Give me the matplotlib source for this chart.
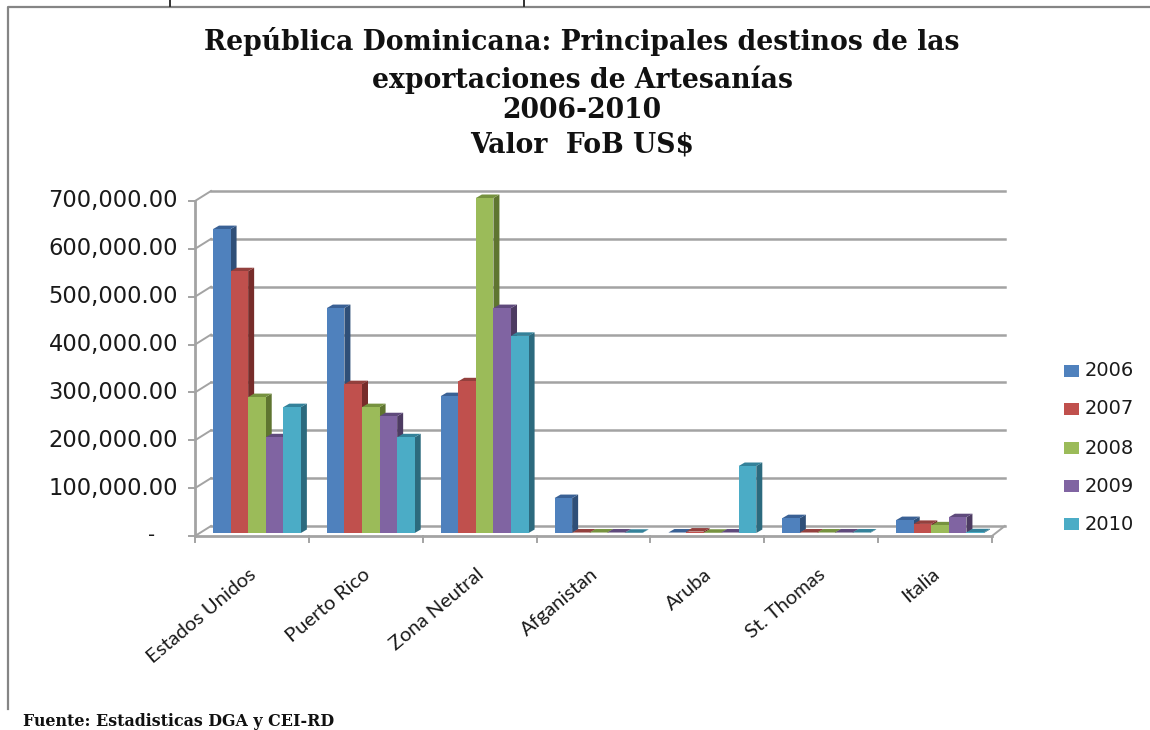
import matplotlib
matplotlib.use('Agg')
import matplotlib.pyplot as plt
from matplotlib.patches import Polygon, Rectangle
import numpy as np

categories = ['Estados Unidos', 'Puerto Rico', 'Zona Neutral', 'Afganistan', 'Aruba', 'St. Thomas', 'Italia']
years = ['2006', '2007', '2008', '2009', '2010']
v2006 = [635000, 470000, 286000, 73000, 1000, 31000, 27000]
v2007 = [547000, 311000, 317000, 1000, 3000, 1000, 19000]
v2008 = [284000, 263000, 700000, 1000, 500, 1000, 16000]
v2009 = [200000, 244000, 470000, 1000, 1000, 1000, 33000]
v2010 = [263000, 200000, 412000, 500, 140000, 1000, 1500]
series = [v2006, v2007, v2008, v2009, v2010]
yticks = [0, 100000, 200000, 300000, 400000, 500000, 600000, 700000]
ylabels = ['-', '100,000.00', '200,000.00', '300,000.00', '400,000.00', '500,000.00', '600,000.00', '700,000.00']

front = ['#4F81BD', '#C0504D', '#9BBB59', '#8064A2', '#4BACC6']
side = ['#2F4F78', '#772C2A', '#5F7530', '#4D3B62', '#2C6A7E']
top = ['#3A6195', '#93403D', '#76923F', '#5F4A7C', '#34829A']
grid = '#A3A3A3'
ink = '#1A1A1A'

W, H = 1150, 730
fig = plt.figure(figsize=(W / 100, H / 100), dpi=100)

# page frame behind the chart
bg = fig.add_axes([0, 0, 1, 1])
bg.set_xlim(0, W)
bg.set_ylim(H, 0)
bg.axis('off')
bg.plot([8, 8, W], [709, 7, 7], color='#858585', lw=1.6)
# stubs of the cut off text line above the frame
for sx in [170, 524]:
    bg.plot([sx, sx], [0, 6], color='#222222', lw=1.3)

# front plane of the fake 3d box: x 195-992 px, y 536-201 px
ax = fig.add_axes([195 / W, 1 - 536 / H, 797 / W, 335 / H])
ax.set_xlim(0, 7)
ax.set_ylim(0, 700000)
ax.patch.set_alpha(0)
for s in ax.spines.values():
    s.set_visible(False)

px = 7 / 797
py = 700000 / 335
wall_dx, wall_dy = 16 * px, 10 * py   # back wall
bar_dx, bar_dy = 5 * px, 3 * py       # front of bars sits inside the box
dep_x, dep_y = 6 * px, 3.5 * py       # bar depth

for t in yticks:
    ax.plot([wall_dx, 7 + wall_dx * 0.8], [t + wall_dy] * 2, color=grid, lw=1.8, clip_on=False, zorder=1)
    ax.plot([0, wall_dx], [t, t + wall_dy], color=grid, lw=1.4, clip_on=False, zorder=1)
    ax.plot([-6 * px, 0], [t, t], color=grid, lw=1.4, clip_on=False, zorder=1)
ax.plot([0, 0], [0, 700000], color=grid, lw=2, clip_on=False, zorder=2)
ax.plot([0, 7], [0, 0], color=grid, lw=2, clip_on=False, zorder=2)
ax.plot([7, 7 + wall_dx * 0.8], [0, wall_dy], color=grid, lw=1.4, clip_on=False, zorder=2)
for i in range(8):
    ax.plot([i, i], [0, -6 * py], color=grid, lw=1.4, clip_on=False, zorder=2)

w = 88 / 114 / 5
z = 3
for c in range(len(categories)):
    x0 = c + 13 / 114
    for k, vals in enumerate(series):
        v = vals[c]
        l = x0 + k * w + bar_dx
        r = l + w
        b = bar_dy
        h = v + bar_dy
        ax.add_patch(Polygon([(r, b), (r + dep_x, b + dep_y), (r + dep_x, h + dep_y), (r, h)], color=side[k], lw=0, zorder=z, clip_on=False))
        ax.add_patch(Polygon([(l, h), (r, h), (r + dep_x, h + dep_y), (l + dep_x, h + dep_y)], color=top[k], lw=0, zorder=z, clip_on=False))
        ax.add_patch(Rectangle((l, b), w, v, color=front[k], lw=0, zorder=z + 0.5, clip_on=False))
        z += 1

ax.set_xticks([])
ax.set_yticks([])
for t, lab in zip(yticks, ylabels):
    if lab == '-':
        ax.text(-43 * px, t, lab, ha='center', va='center', fontsize=14, family='DejaVu Sans', color=ink)
    else:
        ax.text(-17 * px, t, lab, ha='right', va='center', fontsize=16.3, family='DejaVu Sans', color=ink)
for c, lab in enumerate(categories):
    ax.annotate(lab, xy=(c + 0.5, 0), xytext=(2, -36), textcoords='offset pixels', rotation=40,
                rotation_mode='anchor', ha='right', va='center', fontsize=14.5, family='Lato', color=ink, annotation_clip=False)

# title and source
title_lines = ['República Dominicana: Principales destinos de las', 'exportaciones de Artesanías', '2006-2010', 'Valor  FoB US$']
title_y = [50, 88, 118, 152]
for line, y in zip(title_lines, title_y):
    bg.text(582, y, line, ha='center', va='baseline', fontsize=19.2, fontweight='bold', family='DejaVu Serif', color='#111111')
bg.text(23, 726, 'Fuente: Estadisticas DGA y CEI-RD', ha='left', va='baseline', fontsize=11.4, fontweight='bold', family='DejaVu Serif', color='#111111')

# legend
leg_y = [371, 409, 448, 486, 524]
for k, (yr, y) in enumerate(zip(years, leg_y)):
    bg.add_patch(Rectangle((1063.5, y - 6), 15, 12, color=front[k], lw=0))
    bg.text(1085, y, yr, ha='left', va='center', fontsize=14, family='DejaVu Sans', color=ink)

fig.savefig('out.png', dpi=100)
